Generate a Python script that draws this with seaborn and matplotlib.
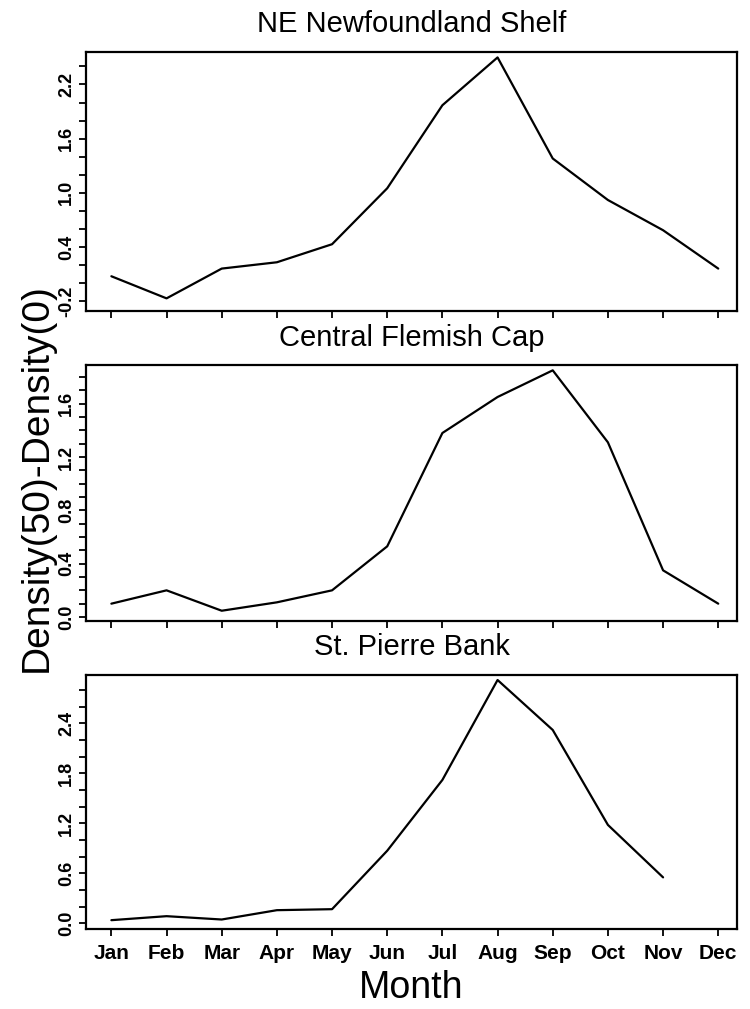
import numpy as np
import pandas as pd
import matplotlib
matplotlib.use("Agg")
import matplotlib.pyplot as plt
import seaborn as sns
from matplotlib.ticker import FixedLocator, MultipleLocator

# ---- data ----
months = ["Jan", "Feb", "Mar", "Apr", "May", "Jun",
          "Jul", "Aug", "Sep", "Oct", "Nov", "Dec"]
ne_newfoundland = [0.075, -0.17, 0.16, 0.23, 0.43, 1.05, 1.97, 2.50, 1.38, 0.92, 0.585, 0.16]
central_flemish = [0.10, 0.20, 0.047, 0.11, 0.20, 0.53, 1.38, 1.65, 1.85, 1.31, 0.35, 0.10]
st_pierre = [0.036, 0.084, 0.044, 0.156, 0.168, 0.87, 1.72, 2.92, 2.32, 1.18, 0.55, np.nan]
titles = ["NE Newfoundland Shelf", "Central Flemish Cap", "St. Pierre Bank"]
ne_yticks = [-0.2, 0.4, 1.0, 1.6, 2.2]
cf_yticks = [0.0, 0.4, 0.8, 1.2, 1.6]
sp_yticks = [0.0, 0.6, 1.2, 1.8, 2.4]
y_label = "Density(50)-Density(0)"
x_label = "Month"

sns.set_theme(style="ticks")
plt.rcParams["font.family"] = ["Liberation Sans", "DejaVu Sans"]
for k in ["text.color", "axes.labelcolor", "xtick.color", "ytick.color", "axes.edgecolor"]:
    plt.rcParams[k] = "black"

W, H = 750, 1009
fig = plt.figure(figsize=(W / 100, H / 100), dpi=100)
fig.patch.set_facecolor("white")

left, right = 86, 737
panel_px = [(52, 311), (365, 621), (675, 929)]
title_px = [24, 338, 647]
series = [ne_newfoundland, central_flemish, st_pierre]
yticks = [ne_yticks, cf_yticks, sp_yticks]
ylims = [(-0.31, 2.56), (-0.03, 1.89), (-0.07, 2.98)]
minors = [0.2, 0.1, 0.2]

for i, (vals, (t, b)) in enumerate(zip(series, panel_px)):
    ax = fig.add_axes([left / W, 1 - b / H, (right - left) / W, (b - t) / H])
    df = pd.DataFrame({"x": np.arange(len(months)), "value": vals})
    sns.lineplot(data=df, x="x", y="value", ax=ax, color="black", linewidth=1.6)
    ax.set_xlim(-0.46, len(months) - 1 + 0.34)
    ax.set_ylim(*ylims[i])
    ax.set_xticks(np.arange(len(months)))
    if i == 2:
        ax.set_xticklabels(months, fontsize=15, fontweight="bold")
    else:
        ax.set_xticklabels([])
    ax.yaxis.set_major_locator(FixedLocator(yticks[i]))
    ax.yaxis.set_minor_locator(MultipleLocator(minors[i]))
    ax.set_yticklabels([f"{v:.1f}" for v in yticks[i]], fontsize=13,
                       fontweight="bold", rotation=90, va="center")
    ax.tick_params(axis="both", which="both", direction="out", length=5,
                   width=1.3, color="black")
    ax.tick_params(axis="y", pad=3)
    ax.tick_params(axis="x", pad=6)
    ax.set_xlabel("")
    ax.set_ylabel("")
    for s in ax.spines.values():
        s.set_visible(True)
        s.set_linewidth(1.6)
        s.set_color("black")
    ax.set_facecolor("white")
    fig.text((left + right) / 2 / W, 1 - title_px[i] / H, titles[i],
             fontsize=21, ha="center", va="center")

fig.text(37 / W, 1 - 478 / H, y_label, rotation=90, fontsize=28,
         ha="center", va="center")
fig.text((left + right) / 2 / W, 1 - 988 / H, x_label, fontsize=27,
         ha="center", va="center")

fig.savefig("out.png", dpi=100, facecolor="white")
